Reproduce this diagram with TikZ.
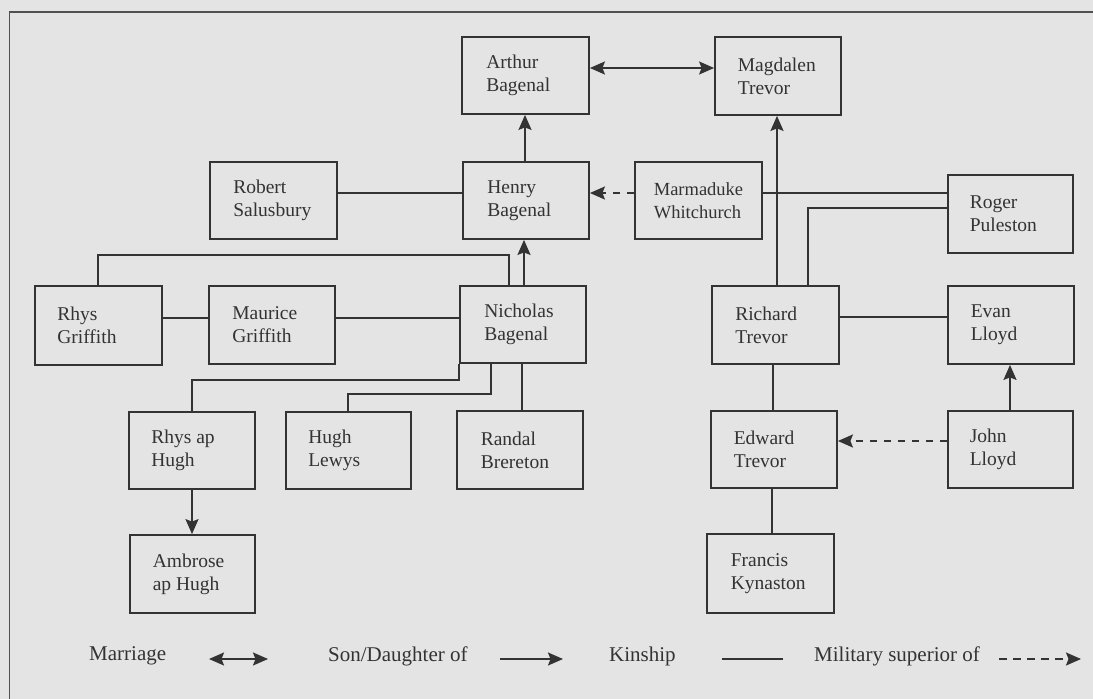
\documentclass[tikz,border=0pt]{standalone}
\usepackage{fontspec}
\setmainfont{Liberation Serif}
\usetikzlibrary{arrows.meta,fit}
\definecolor{ink}{HTML}{333333}
\definecolor{paper}{HTML}{E4E4E4}
\definecolor{framec}{HTML}{505050}
\begin{document}
\begin{tikzpicture}[x=1pt,y=-1pt,
  box/.style={draw=ink, line width=1.8pt, inner sep=0pt},
  txt/.style={anchor=west, align=left, inner sep=0pt, text=ink, font=\fontsize{19.5pt}{23pt}\selectfont},
  leg/.style={anchor=west, inner sep=0pt, text=ink, font=\fontsize{21pt}{25pt}\selectfont},
  link/.style={draw=ink, line width=1.8pt},
  kin/.style={link},
  tip/.tip={Stealth[length=15pt,width=13pt,inset=2.5pt]},
  son/.style={link, -tip},
  marr/.style={link, tip-tip},
  mil/.style={link, dash pattern=on 7.5pt off 6.5pt, -tip},
]
\useasboundingbox (0,0) rectangle (1093,699);
\fill[paper] (0,0) rectangle (1093,699);
\draw[framec, line width=1.5pt] (9.5,699) -- (9.5,12) -- (1093,12);

% boxes
\node[box, fit={(462,37) (589,114)}] (arthur) {};
\node[box, fit={(715,37) (841,115)}] (magdalen) {};
\node[box, fit={(210,162) (337,239)}] (robert) {};
\node[box, fit={(463,162) (589,239)}] (henry) {};
\node[box, fit={(635,162) (762,239)}] (marm) {};
\node[box, fit={(948,175) (1073,253)}] (roger) {};
\node[box, fit={(35,286) (162,365)}] (rhysg) {};
\node[box, fit={(209,286) (335,364)}] (maurice) {};
\node[box, fit={(460,286) (586,363)}] (nicholas) {};
\node[box, fit={(712,286) (839,364)}] (richard) {};
\node[box, fit={(948,286) (1074,364)}] (evan) {};
\node[box, fit={(129,412) (255,489)}] (rhysah) {};
\node[box, fit={(286,412) (411,489)}] (hugh) {};
\node[box, fit={(457,411) (583,489)}] (randal) {};
\node[box, fit={(711,411) (837,488)}] (edward) {};
\node[box, fit={(948,411) (1073,488)}] (john) {};
\node[box, fit={(130,535) (255,613)}] (ambrose) {};
\node[box, fit={(707,534) (834,613)}] (francis) {};

% texts
\node[txt] (arthur-t) at ([xshift=25pt]arthur.west) {Arthur\\Bagenal};
\node[txt] (magdalen-t) at ([xshift=23.5pt]magdalen.west) {Magdalen\\Trevor};
\node[txt] (robert-t) at ([xshift=24pt]robert.west) {Robert\\Salusbury};
\node[txt] (henry-t) at ([xshift=25pt]henry.west) {Henry\\Bagenal};
\node[txt, font=\fontsize{18.5pt}{23pt}\selectfont] (marm-t) at ([xshift=19.5pt]marm.west) {Marmaduke\\Whitchurch};
\node[txt] (roger-t) at ([xshift=22.5pt]roger.west) {Roger\\Puleston};
\node[txt] (rhysg-t) at ([xshift=23pt]rhysg.west) {Rhys\\Griffith};
\node[txt] (maurice-t) at ([xshift=24pt]maurice.west) {Maurice\\Griffith};
\node[txt] (nicholas-t) at ([xshift=25pt]nicholas.west) {Nicholas\\Bagenal};
\node[txt] (richard-t) at ([xshift=24pt]richard.west) {Richard\\Trevor};
\node[txt] (evan-t) at ([xshift=23.5pt]evan.west) {Evan\\Lloyd};
\node[txt] (rhysah-t) at ([xshift=23pt]rhysah.west) {Rhys ap\\Hugh};
\node[txt] (hugh-t) at ([xshift=23pt]hugh.west) {Hugh\\Lewys};
\node[txt] (randal-t) at ([xshift=24.5pt]randal.west) {Randal\\Brereton};
\node[txt] (edward-t) at ([xshift=23.5pt]edward.west) {Edward\\Trevor};
\node[txt] (john-t) at ([xshift=22.5pt]john.west) {John\\Lloyd};
\node[txt] (ambrose-t) at ([xshift=23.5pt]ambrose.west) {Ambrose\\ap Hugh};
\node[txt] (francis-t) at ([xshift=24.5pt]francis.west) {Francis\\Kynaston};

% connectors
\draw[marr] (arthur.east |- 0,68) -- (magdalen.west |- 0,68);
\draw[son] (henry.north -| 525,0) -- (arthur.south -| 525,0);
\draw[kin] (robert.east |- 0,193) -- (henry.west |- 0,193);
\draw[mil] (marm.west |- 0,193) -- (henry.east |- 0,193);
\draw[kin] (marm.east |- 0,193) -- (roger.west |- 0,193);
\draw[son] (richard.north -| 777,0) -- (magdalen.south -| 777,0);
\draw[kin] (roger.west |- 0,208) -| (richard.north -| 808,0);
\draw[kin] (rhysg.north -| 98,0) -- (98,255) -| (nicholas.north -| 509,0);
\draw[kin] (rhysg.east |- 0,318) -- (maurice.west |- 0,318);
\draw[kin] (maurice.east |- 0,318) -- (nicholas.west |- 0,318);
\draw[son] (nicholas.north -| 524,0) -- (henry.south -| 524,0);
\draw[kin] (nicholas.south west) -- (nicholas.south west |- 0,380) -| (rhysah.north -| 192,0);
\draw[kin] (nicholas.south -| 491,0) -- (491,394) -| (hugh.north -| 348,0);
\draw[kin] (nicholas.south -| 522,0) -- (randal.north -| 522,0);
\draw[son] (rhysah.south -| 192,0) -- (ambrose.north -| 192,0);
\draw[kin] (richard.east |- 0,317) -- (evan.west |- 0,317);
\draw[kin] (richard.south -| 773,0) -- (edward.north -| 773,0);
\draw[son] (john.north -| 1010,0) -- (evan.south -| 1010,0);
\draw[mil] (john.west |- 0,441) -- (edward.east |- 0,441);
\draw[kin] (edward.south -| 772,0) -- (francis.north -| 772,0);

% legend
\node[leg] (l-marr) at (89,656) {Marriage};
\coordinate (lm1) at (209,659);
\coordinate (lm2) at (268,659);
\draw[marr] (lm1) -- (lm2);
\node[leg] (l-son) at (328,656) {Son/Daughter of};
\coordinate (ls1) at (500,659);
\coordinate (ls2) at (563,659);
\draw[son] (ls1) -- (ls2);
\node[leg] (l-kin) at (609,656) {Kinship};
\coordinate (lk1) at (722,659);
\coordinate (lk2) at (783,659);
\draw[kin] (lk1) -- (lk2);
\node[leg] (l-mil) at (814,656) {Military superior of};
\coordinate (ld1) at (999,659);
\coordinate (ld2) at (1081,659);
\draw[mil] (ld1) -- (ld2);
\end{tikzpicture}
\end{document}
